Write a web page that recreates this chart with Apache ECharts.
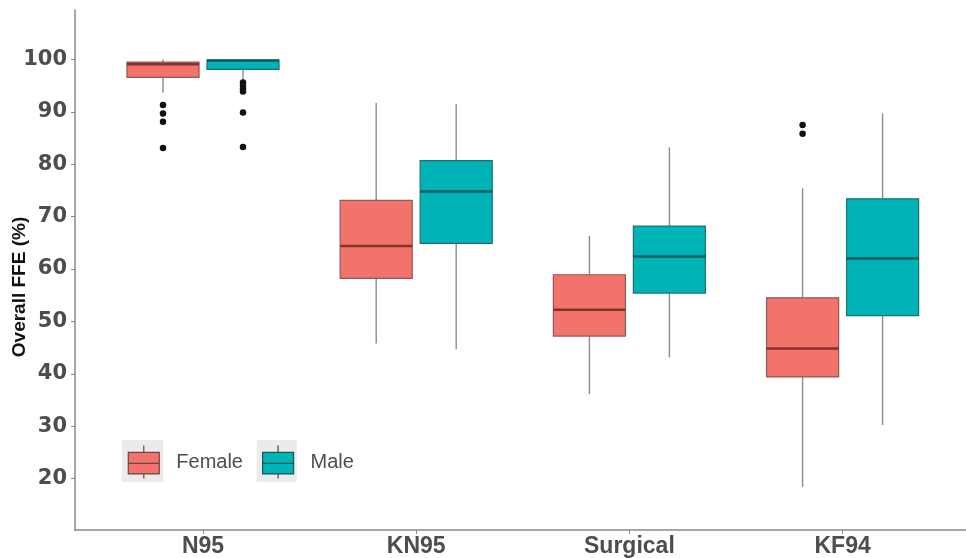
<!DOCTYPE html>
<html>
<head>
<meta charset="utf-8">
<script src="https://cdn.jsdelivr.net/npm/echarts@6/dist/echarts.min.js"></script>
<style>
  html, body { margin: 0; padding: 0; background: #fff; }
  #chart { width: 966px; height: 558px; }
</style>
</head>
<body>
<div id="chart"></div>
<script>
// masks (x categories)
const masks = ['N95', 'KN95', 'Surgical', 'KF94'];
const yTicks = [20, 30, 40, 50, 60, 70, 80, 90, 100];

// box stats per mask: [min, Q1, median, Q3, max]
const femaleBoxes = [
  [93.7, 96.6, 99.1, 99.5, 100],
  [45.8, 58.2, 64.4, 73.1, 91.7],
  [36.1, 47.2, 52.2, 58.9, 66.3],
  [18.4, 39.4, 44.8, 54.5, 75.4]
];
const maleBoxes = [
  [96.1, 98.1, 99.8, 99.9, 100],
  [44.7, 64.9, 74.8, 80.7, 91.5],
  [43.1, 55.4, 62.4, 68.2, 83.2],
  [30.2, 51.1, 62.0, 73.4, 89.7]
];

// outliers: [maskIndex, value]
const femaleOutliers = [[0, 91.3], [0, 89.7], [0, 88.1], [0, 83.1], [3, 87.5], [3, 85.8]];
const maleOutliers = [[0, 95.6], [0, 95.0], [0, 94.4], [0, 93.9], [0, 89.9], [0, 83.3]];

const FEMALE = '#F1736B';
const MALE = '#00B3B6';
const FONT = '"Liberation Sans", Arial, sans-serif';

// dodge: each box sits at +/- this share of a category band
const DODGE = 0.1876;
const BOX_W = 0.338;

function boxRenderer(side, fill, edge, mid) {
  return function (params, api) {
    const idx = api.value(0);
    const band = api.size([1, 0])[0];
    const cx = api.coord([idx, 0])[0] + side * DODGE * band;
    const w = band * BOX_W;
    const y = v => api.coord([idx, api.value(v)])[1];
    const lo = y(1), q1 = y(2), md = y(3), q3 = y(4), hi = y(5);
    return {
      type: 'group',
      children: [
        { type: 'line', shape: { x1: cx, y1: hi, x2: cx, y2: q3 }, style: { stroke: '#8c8c8c', lineWidth: 1.4 } },
        { type: 'line', shape: { x1: cx, y1: q1, x2: cx, y2: lo }, style: { stroke: '#8c8c8c', lineWidth: 1.4 } },
        { type: 'rect', shape: { x: cx - w / 2, y: q3, width: w, height: q1 - q3 }, style: { fill: fill, stroke: edge, lineWidth: 1.2 } },
        { type: 'line', shape: { x1: cx - w / 2, y1: md, x2: cx + w / 2, y2: md }, style: { stroke: mid, lineWidth: 2.5 } }
      ]
    };
  };
}

const toRows = boxes => boxes.map((b, i) => [i].concat(b));

const chart = echarts.init(document.getElementById('chart'));

chart.setOption({
  animation: false,
  backgroundColor: '#ffffff',
  textStyle: { fontFamily: FONT },
  grid: [
    // frame: axis lines
    { left: 75, right: 0, top: 10, bottom: 28, outerBoundsMode: 'none', containLabel: false },
    // data area
    { left: 96.4, width: 852.8, top: 10, bottom: 28, outerBoundsMode: 'none', containLabel: false }
  ],
  xAxis: [
    {
      gridIndex: 0, type: 'value', min: 0, max: 1,
      axisLine: { show: true, lineStyle: { color: '#8a8a8a', width: 1.5 } },
      axisTick: { show: false }, axisLabel: { show: false }, splitLine: { show: false }
    },
    {
      gridIndex: 1, type: 'category', data: masks,
      axisLine: { show: false },
      axisTick: { show: true, alignWithLabel: true, length: 4, lineStyle: { color: '#8a8a8a' } },
      axisLabel: { color: '#4d4d4d', fontWeight: 'bold', fontSize: 23, fontFamily: FONT, margin: 5 },
      splitLine: { show: false }
    }
  ],
  yAxis: [
    {
      gridIndex: 0, type: 'value', min: 10.17, max: 109.45,
      name: 'Overall FFE (%)', nameLocation: 'middle', nameGap: 46, nameRotate: 90,
      nameMoveOverlap: false,
      nameTextStyle: { color: '#111', fontWeight: 'bold', fontSize: 19, fontFamily: FONT, padding: [0, 34, 0, 0] },
      axisLine: { show: true, lineStyle: { color: '#8a8a8a', width: 1.5 } },
      axisTick: { show: true, length: 4, customValues: yTicks, lineStyle: { color: '#8a8a8a' } },
      axisLabel: {
        customValues: yTicks,
        color: '#4d4d4d', fontWeight: 'bold', fontSize: 21, fontFamily: '"DejaVu Sans", sans-serif', margin: 8
      },
      splitLine: { show: false }
    },
    { gridIndex: 1, type: 'value', min: 10.17, max: 109.45, show: false, splitLine: { show: false } }
  ],
  legend: {
    left: 127.7, top: 445, padding: 0, itemGap: 19,
    itemWidth: 31, itemHeight: 33,
    textStyle: { color: '#4d4d4d', fontSize: 20, fontFamily: FONT, padding: [0, 0, 0, 12] },
    data: [
      { name: 'Female', icon: 'path://M15.5,0V6.7M0,6.7H31V28.3H0ZM0,17.7H31M15.5,28.3V33', itemStyle: { color: FEMALE, borderColor: '#6b4643', borderWidth: 1.2 } },
      { name: 'Male', icon: 'path://M15.5,0V6.7M0,6.7H31V28.3H0ZM0,17.7H31M15.5,28.3V33', itemStyle: { color: MALE, borderColor: '#1e5556', borderWidth: 1.2 } }
    ]
  },
  graphic: [
    { type: 'rect', z: -1, shape: { x: 121.7, y: 440, width: 41.6, height: 42 }, style: { fill: '#ebebeb' } },
    { type: 'rect', z: -1, shape: { x: 256.7, y: 440, width: 40, height: 42 }, style: { fill: '#ebebeb' } }
  ],
  series: [
    {
      name: 'Female', type: 'custom', xAxisIndex: 1, yAxisIndex: 1,
      itemStyle: { color: FEMALE },
      encode: { x: 0, y: [1, 2, 3, 4, 5] },
      data: toRows(femaleBoxes),
      renderItem: boxRenderer(-1, FEMALE, '#8e5a56', '#86302b')
    },
    {
      name: 'Male', type: 'custom', xAxisIndex: 1, yAxisIndex: 1,
      itemStyle: { color: MALE },
      encode: { x: 0, y: [1, 2, 3, 4, 5] },
      data: toRows(maleBoxes),
      renderItem: boxRenderer(1, MALE, '#1d7274', '#0f5a5c')
    },
    {
      name: 'Female outliers', type: 'scatter', xAxisIndex: 1, yAxisIndex: 1,
      symbolSize: 6.5, symbolOffset: [-40, 0],
      itemStyle: { color: '#111', opacity: 1 },
      data: femaleOutliers
    },
    {
      name: 'Male outliers', type: 'scatter', xAxisIndex: 1, yAxisIndex: 1,
      symbolSize: 6.5, symbolOffset: [40, 0],
      itemStyle: { color: '#111', opacity: 1 },
      data: maleOutliers
    }
  ]
});
</script>
</body>
</html>
